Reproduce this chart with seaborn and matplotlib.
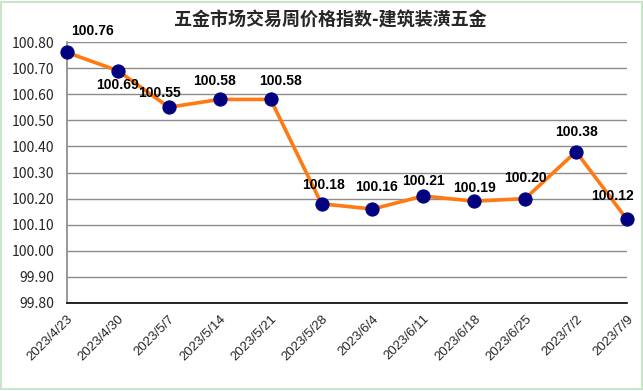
import numpy as np
import pandas as pd
import matplotlib
matplotlib.use('Agg')
import matplotlib.pyplot as plt
import seaborn as sns

# chart data
dates = ['2023/4/23', '2023/4/30', '2023/5/7', '2023/5/14', '2023/5/21', '2023/5/28',
         '2023/6/4', '2023/6/11', '2023/6/18', '2023/6/25', '2023/7/2', '2023/7/9']
index_values = [100.76, 100.69, 100.55, 100.58, 100.58, 100.18,
                100.16, 100.21, 100.19, 100.20, 100.38, 100.12]
y_ticks = [99.80, 99.90, 100.00, 100.10, 100.20, 100.30, 100.40,
           100.50, 100.60, 100.70, 100.80]
title = '五金市场交易周价格指数-建筑装潢五金'

# label offsets in pixels (placement only)
label_offsets = [(26, 21), (0, -14), (-9, 14), (-5, 18), (10, 18), (2, 19),
                 (4, 22), (0, 15), (0, 13), (0, 21), (0, 20), (-15, 23)]

sns.set_theme(style='white')
plt.rcParams['font.family'] = ['Noto Sans CJK SC', 'DejaVu Sans']

df = pd.DataFrame({'pos': np.arange(len(dates)), 'value': index_values})

fig = plt.figure(figsize=(6.43, 3.91), dpi=100)
ax = fig.add_axes([67 / 643, 1 - 303 / 391, (627 - 67) / 643, (303 - 42) / 391])

sns.lineplot(data=df, x='pos', y='value', ax=ax, color='#FF7A12', linewidth=2.6,
             marker='o', markersize=9.5, markerfacecolor='#000080',
             markeredgecolor='#000080', zorder=3, clip_on=False)

for (i, v), (dx, dy) in zip(enumerate(index_values), label_offsets):
    ax.annotate(f'{v:.2f}', (i, v), xytext=(dx * 0.72, dy * 0.72), textcoords='offset points',
                ha='center', va='center', fontsize=10, fontweight='bold',
                family='Liberation Sans', color='black')

ax.set_xlim(0, len(dates) - 1)
ax.set_ylim(99.80, 100.80)
ax.set_yticks(y_ticks)
ax.set_yticklabels([f'{t:.2f}' for t in y_ticks], fontsize=10, family='Noto Sans CJK SC')
ax.set_xticks(df['pos'])
ax.set_xticklabels(dates, rotation=45, ha='right', rotation_mode='anchor',
                   fontsize=9.5, family='Liberation Sans')
ax.tick_params(axis='y', pad=9, length=0)
ax.tick_params(axis='x', pad=7, length=0)
ax.grid(axis='y', color='#8C8C8C', linewidth=1)
ax.set_axisbelow(True)
ax.set_xlabel('')
ax.set_ylabel('')
for side in ['top', 'right']:
    ax.spines[side].set_visible(False)
ax.spines['left'].set_color('#8C8C8C')
ax.spines['bottom'].set_color('black')
ax.spines['bottom'].set_linewidth(1.2)

fig.text(330 / 643, 1 - 20 / 391, title, ha='center', va='center', fontsize=13,
         fontweight='bold', family='Noto Sans CJK SC')

# light spreadsheet frame
fig.patches.append(plt.Rectangle((0.002, 0.004), 0.996, 0.992, transform=fig.transFigure,
                                 fill=False, edgecolor='#C8E6C9', linewidth=1.5))

fig.savefig('out.png', dpi=100)
